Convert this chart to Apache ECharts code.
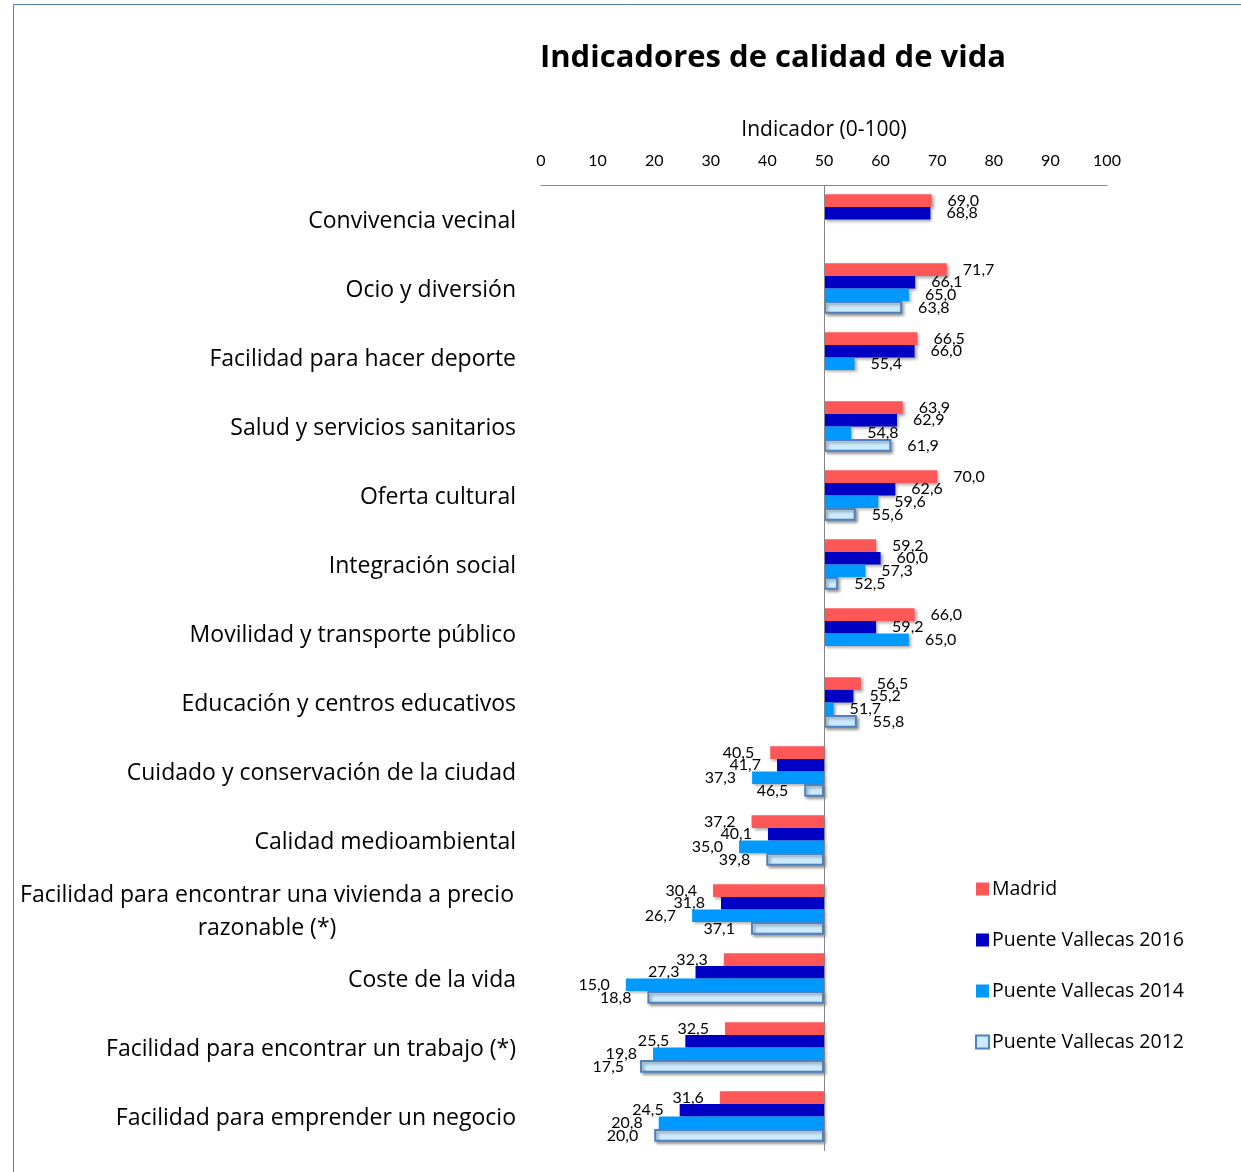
<!DOCTYPE html>
<html>
<head>
<meta charset="utf-8">
<script src="https://cdn.jsdelivr.net/npm/echarts@6/dist/echarts.min.js"></script>
<style>
html,body{margin:0;padding:0;background:#fff;}
#chart{width:1241px;height:1172px;}
</style>
</head>
<body>
<div id="chart"></div>
<script>
const categories = [
  'Convivencia vecinal',
  'Ocio y diversión',
  'Facilidad para hacer deporte',
  'Salud y servicios sanitarios',
  'Oferta cultural',
  'Integración social',
  'Movilidad y transporte público',
  'Educación y centros educativos',
  'Cuidado y conservación de la ciudad',
  'Calidad medioambiental',
  'Facilidad para encontrar una vivienda a precio\nrazonable (*)',
  'Coste de la vida',
  'Facilidad para encontrar un trabajo (*)',
  'Facilidad para emprender un negocio'
];
const madrid = [69.0, 71.7, 66.5, 63.9, 70.0, 59.2, 66.0, 56.5, 40.5, 37.2, 30.4, 32.3, 32.5, 31.6];
const pv2016 = [68.8, 66.1, 66.0, 62.9, 62.6, 60.0, 59.2, 55.2, 41.7, 40.1, 31.8, 27.3, 25.5, 24.5];
const pv2014 = [null, 65.0, 55.4, 54.8, 59.6, 57.3, 65.0, 51.7, 37.3, 35.0, 26.7, 15.0, 19.8, 20.8];
const pv2012 = [null, 63.8, null, 61.9, 55.6, 52.5, null, 55.8, 46.5, 39.8, 37.1, 18.8, 17.5, 20.0];
const seriesNames = ['Madrid', 'Puente Vallecas 2016', 'Puente Vallecas 2014', 'Puente Vallecas 2012'];
const axisTicks = [0, 10, 20, 30, 40, 50, 60, 70, 80, 90, 100];
const BASE = 50;

const FONT_A = 'Lato, "Open Sans", sans-serif';
const FONT_B = '"Open Sans", "Noto Sans", sans-serif';

function toItems(arr) {
  return arr.map(v => {
    if (v === null) return null;
    const d = v - BASE;
    return {
      value: d,
      label: { position: d >= 0 ? 'right' : 'left' }
    };
  });
}
function fmt(v) { return v.toFixed(1).replace('.', ','); }

const styles = [
  { color: '#FF5757' },
  { color: '#0000C4' },
  { color: '#0099FF' },
  { color: '#CCEBFF', borderColor: '#4F81BD', borderWidth: 2 }
];
const dataSets = [madrid, pv2016, pv2014, pv2012];

const series = dataSets.map((arr, i) => ({
  name: seriesNames[i],
  type: 'bar',
  data: toItems(arr),
  barGap: '0%',
  barCategoryGap: '27%',
  itemStyle: Object.assign({
    shadowBlur: 3, shadowOffsetX: 2, shadowOffsetY: 2, shadowColor: 'rgba(0,0,0,0.35)'
  }, styles[i]),
  label: {
    show: true,
    distance: 16,
    color: '#000',
    fontSize: 16,
    fontFamily: FONT_A,
    formatter: p => fmt(p.value + BASE)
  },
  emphasis: { disabled: true },
  markLine: i === 0 ? {
    silent: true,
    symbol: 'none',
    label: { show: false },
    lineStyle: { color: '#868686', width: 1, type: 'solid' },
    data: [{ xAxis: 0 }]
  } : undefined
}));

const chart = echarts.init(document.getElementById('chart'));
chart.setOption({
  backgroundColor: '#fff',
  animation: false,
  textStyle: { fontFamily: FONT_B },
  title: {
    text: 'Indicadores de calidad de vida',
    left: 768,
    textAlign: 'center',
    top: 38,
    textStyle: { fontSize: 31, fontWeight: 'bold', color: '#000', fontFamily: FONT_B }
  },
  legend: {
    orient: 'vertical',
    left: 970,
    top: 874,
    itemWidth: 13,
    itemHeight: 13,
    itemGap: 31,
    icon: 'rect',
    textStyle: { fontSize: 19.5, color: '#000', fontFamily: FONT_B, padding: [0, 0, 0, -2] },
    data: seriesNames
  },
  grid: { left: 541, right: 134, top: 185, bottom: 21, containLabel: false },
  xAxis: {
    type: 'value',
    position: 'top',
    min: -50, max: 50, interval: 10,
    name: 'Indicador (0-100)',
    nameLocation: 'middle',
    nameGap: 44,
    nameTextStyle: { fontSize: 21, color: '#000', fontFamily: FONT_B },
    axisLine: { show: true, onZero: false, lineStyle: { color: '#868686', width: 1 } },
    axisTick: { show: false },
    splitLine: { show: false },
    axisLabel: {
      margin: 16,
      fontSize: 16,
      color: '#000',
      fontFamily: FONT_A,
      formatter: v => String(axisTicks[Math.round((v + BASE) / 10)])
    }
  },
  yAxis: {
    type: 'category',
    inverse: true,
    data: categories,
    axisLine: { show: false, onZero: false },
    axisTick: { show: false },
    splitLine: { show: false },
    axisLabel: {
      margin: 25,
      fontSize: 23,
      color: '#000',
      fontFamily: FONT_B,
      lineHeight: 33,
      padding: [4, 0, 0, 0],
      formatter: (v) => {
        if (v.indexOf('\n') >= 0) {
          return v.split('\n').map(s => '{c|' + s + '}').join('\n');
        }
        return v;
      },
      rich: {
        c: { width: 498, align: 'center', fontSize: 23, lineHeight: 33, color: '#000', fontFamily: FONT_B }
      }
    }
  },
  graphic: [{
    type: 'rect',
    shape: { x: 13.5, y: 4.5, width: 1300, height: 1300 },
    style: { fill: 'none', stroke: '#4F81BD', lineWidth: 1 },
    silent: true
  }],
  series: series
});
</script>
</body>
</html>
